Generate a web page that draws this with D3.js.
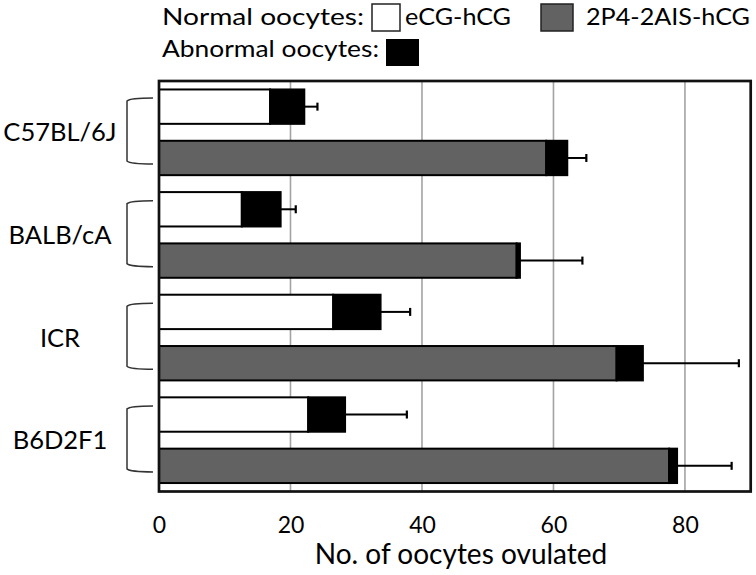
<!DOCTYPE html>
<html><head><meta charset="utf-8">
<script src="https://cdn.jsdelivr.net/npm/d3@7"></script>
<style>
body{margin:0;background:#fff}
text{font-family:Lato,"Open Sans",sans-serif;fill:#000}
</style>
</head><body>
<svg id="c" width="756" height="575"></svg>
<script>
// ---- data ----
const strains = ["C57BL/6J", "BALB/cA", "ICR", "B6D2F1"];
const treatments = ["eCG-hCG", "2P4-2AIS-hCG"];
const normalEcg = [16.9, 12.6, 26.5, 22.7];
const abnormalEcg = [5.2, 5.9, 7.2, 5.6];
const sdEcg = [2.0, 2.3, 4.5, 9.4];
const normal2p4 = [58.9, 54.4, 69.6, 77.6];
const abnormal2p4 = [3.2, 0.5, 4.0, 1.2];
const sd2p4 = [2.9, 9.5, 14.6, 8.3];
const xTicks = [0, 20, 40, 60, 80];
const gridTicks = [20, 40, 60, 80];
const xTitle = "No. of oocytes ovulated";
const legendNormal = "Normal oocytes:";
const legendAbnormal = "Abnormal oocytes:";

const rows = [];
strains.forEach((s, i) => {
  rows.push({strain: s, treat: treatments[0], normal: normalEcg[i], abnormal: abnormalEcg[i], sd: sdEcg[i]});
  rows.push({strain: s, treat: treatments[1], normal: normal2p4[i], abnormal: abnormal2p4[i], sd: sd2p4[i]});
});

const fillNormal = {"eCG-hCG": "#ffffff", "2P4-2AIS-hCG": "#626262"};

const svg = d3.select("#c");
const L = 159, R = 750.7, T = 81, B = 491.5;

const x = d3.scaleLinear().domain([0, 90]).range([L, R]);
const y0 = d3.scaleBand().domain(strains).range([T, B]).padding(0);
const y1 = d3.scaleBand().domain(treatments).range([0, y0.bandwidth()])
  .paddingInner(0.33).paddingOuter(0.165);

// grid
svg.append("g").selectAll("line").data(gridTicks).join("line")
  .attr("x1", d => x(d)).attr("x2", d => x(d))
  .attr("y1", T).attr("y2", B)
  .attr("stroke", "#a3a3a3").attr("stroke-width", 1.6);

// bars
const g = svg.append("g");
const yb = d => y0(d.strain) + y1(d.treat);
g.selectAll("rect.n").data(rows).join("rect").attr("class", "n")
  .attr("x", x(0)).attr("y", yb)
  .attr("width", d => x(d.normal) - x(0)).attr("height", y1.bandwidth())
  .attr("fill", d => fillNormal[d.treat]).attr("stroke", "#000").attr("stroke-width", 2);
g.selectAll("rect.a").data(rows).join("rect").attr("class", "a")
  .attr("x", d => x(d.normal)).attr("y", yb)
  .attr("width", d => x(d.normal + d.abnormal) - x(d.normal)).attr("height", y1.bandwidth())
  .attr("fill", "#000").attr("stroke", "#000").attr("stroke-width", 2);

// error bars
const yc = d => yb(d) + y1.bandwidth() / 2;
g.selectAll("line.e").data(rows).join("line").attr("class", "e")
  .attr("x1", d => x(d.normal + d.abnormal)).attr("x2", d => x(d.normal + d.abnormal + d.sd))
  .attr("y1", yc).attr("y2", yc).attr("stroke", "#000").attr("stroke-width", 2);
g.selectAll("line.c").data(rows).join("line").attr("class", "c")
  .attr("x1", d => x(d.normal + d.abnormal + d.sd)).attr("x2", d => x(d.normal + d.abnormal + d.sd))
  .attr("y1", d => yc(d) - 4).attr("y2", d => yc(d) + 4).attr("stroke", "#000").attr("stroke-width", 2.2);

// frame
svg.append("rect").attr("x", L).attr("y", T).attr("width", R - L).attr("height", B - T)
  .attr("fill", "none").attr("stroke", "#111").attr("stroke-width", 2.7);

// brackets and category labels
strains.forEach(s => {
  const top = y0(s) + 18, bot = y0(s) + 82;
  svg.append("path")
    .attr("d", `M153,${top - 1} Q130,${top - 1} 127,${top + 2} L127,${bot - 2} Q130,${bot + 1} 153,${bot + 1}`)
    .attr("fill", "none").attr("stroke", "#333").attr("stroke-width", 1.5);
  svg.append("text").attr("x", 60).attr("y", y0(s) + y0.bandwidth() / 2 + 9)
    .attr("text-anchor", "middle").attr("font-size", 25.5).text(s);
});

// x axis
const ax = svg.append("g").attr("transform", `translate(0,${B})`)
  .call(d3.axisBottom(x).tickValues(xTicks).tickSize(0).tickFormat(d3.format("d")));
ax.select(".domain").remove();
ax.selectAll("text").attr("y", 41.5).attr("dy", 0).attr("font-size", 23)
  .attr("font-family", "Lato,'Open Sans',sans-serif").attr("fill", "#000");

svg.append("text").attr("x", 461).attr("y", 564).attr("text-anchor", "middle")
  .attr("font-size", 28).text(xTitle);

// legend
function legText(tx, ty, w, str) {
  svg.append("text").attr("x", tx).attr("y", ty).attr("font-size", 24)
    .attr("textLength", w).attr("lengthAdjust", "spacingAndGlyphs").text(str);
}
legText(162, 25, 202, legendNormal);
svg.append("rect").attr("x", 372).attr("y", 4).attr("width", 28).attr("height", 27)
  .attr("fill", fillNormal[treatments[0]]).attr("stroke", "#222").attr("stroke-width", 1.5);
legText(405, 25, 106, treatments[0]);
svg.append("rect").attr("x", 541).attr("y", 4).attr("width", 32).attr("height", 27)
  .attr("fill", fillNormal[treatments[1]]).attr("stroke", "#222").attr("stroke-width", 1.5);
legText(586, 25, 164, treatments[1]);
legText(162, 57, 217, legendAbnormal);
svg.append("rect").attr("x", 386).attr("y", 39).attr("width", 33).attr("height", 27)
  .attr("fill", "#000");
</script>
</body></html>
